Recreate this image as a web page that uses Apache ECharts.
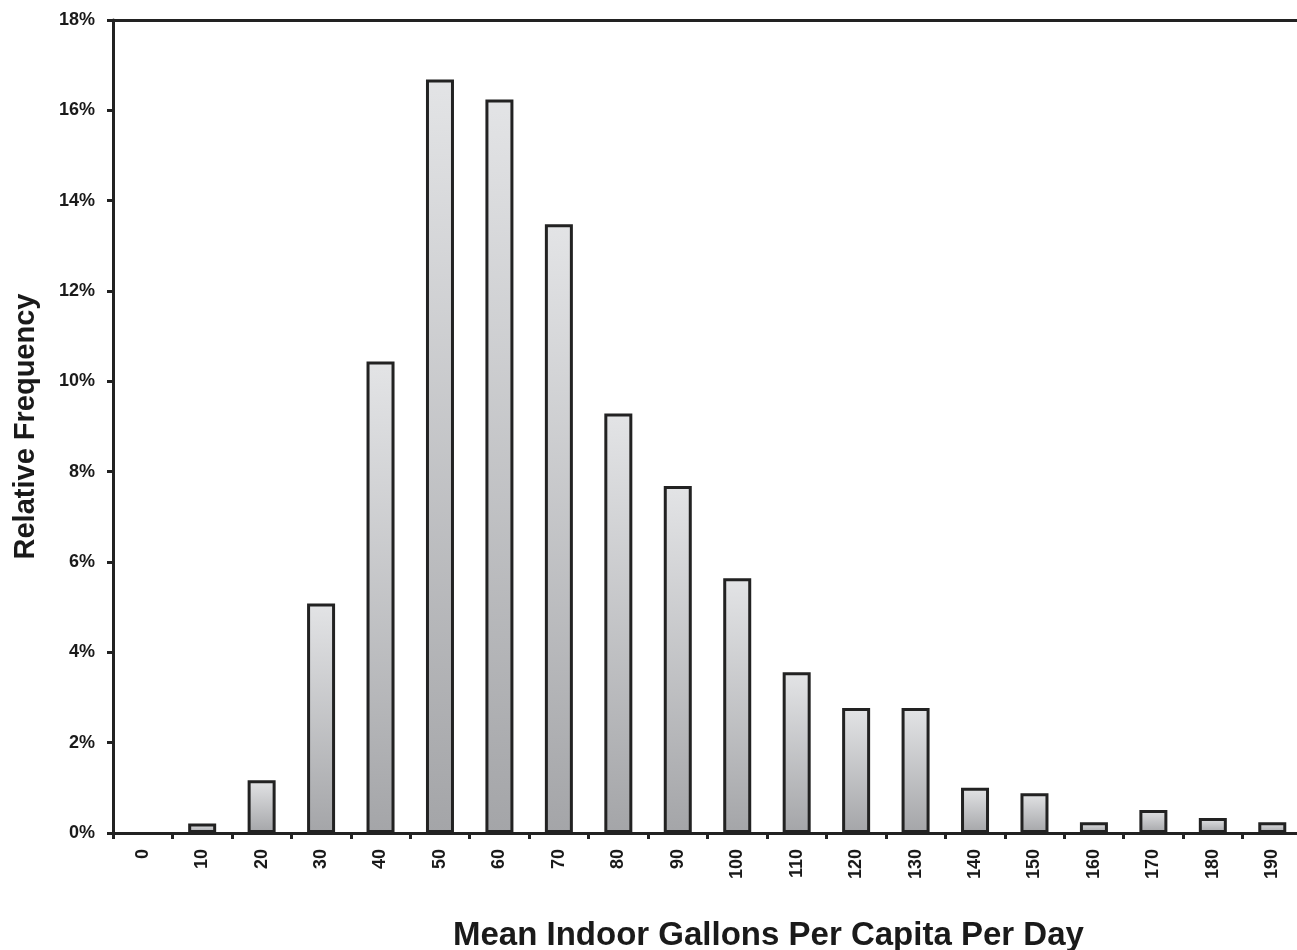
<!DOCTYPE html>
<html><head><meta charset="utf-8">
<script src="https://cdn.jsdelivr.net/npm/echarts@6/dist/echarts.min.js"></script>
<style>html,body{margin:0;padding:0;background:#fff}#c{width:1297px;height:950px}</style>
</head><body><div id="c"></div>
<script>
const categories = ['0','10','20','30','40','50','60','70','80','90','100','110','120','130','140','150','160','170','180','190'];
const frequency = [0, 0.21, 1.17, 5.08, 10.44, 16.68, 16.24, 13.48, 9.29, 7.68, 5.64, 3.56, 2.77, 2.77, 1.0, 0.88, 0.24, 0.51, 0.33, 0.24];
const yTicks = [0, 2, 4, 6, 8, 10, 12, 14, 16, 18];
const xTitle = 'Mean Indoor Gallons Per Capita Per Day';
const yTitle = 'Relative Frequency';

const chart = echarts.init(document.getElementById('c'));
const font = 'Liberation Sans, Arial, sans-serif';
chart.setOption({
  animation: false,
  backgroundColor: '#ffffff',
  title: {
    text: xTitle, left: 448, top: 914,
    textStyle: { fontFamily: font, fontWeight: 'bold', fontSize: 33, color: '#1a1a1a' }
  },
  grid: { left: 113, top: 20, bottom: 117, width: 1189, containLabel: false, outerBoundsMode: 'none' },
  xAxis: [{
    type: 'category', data: categories, position: 'bottom',
    axisLine: { lineStyle: { color: '#222', width: 3 } },
    axisTick: { show: true, length: 6, inside: false, alignWithLabel: false, lineStyle: { color: '#222', width: 3 } },
    axisLabel: { rotate: 90, margin: 16, fontFamily: font, fontWeight: 'bold', fontSize: 18, color: '#1a1a1a' },
    splitLine: { show: false }
  }, {
    type: 'category', data: categories, position: 'top',
    axisLine: { lineStyle: { color: '#222', width: 3 } },
    axisTick: { show: false }, axisLabel: { show: false }, splitLine: { show: false }
  }],
  yAxis: {
    type: 'value', min: yTicks[0], max: yTicks[yTicks.length - 1], interval: 2,
    name: yTitle, nameLocation: 'middle', nameGap: 73, nameMoveOverlap: false,
    nameTextStyle: { fontFamily: font, fontWeight: 'bold', fontSize: 29, color: '#1a1a1a' },
    axisLine: { show: true, lineStyle: { color: '#222', width: 3 } },
    axisTick: { show: true, length: 6, lineStyle: { color: '#222', width: 3 } },
    axisLabel: { margin: 18, fontFamily: font, fontWeight: 'bold', fontSize: 18, color: '#1a1a1a', formatter: v => v + '%' },
    splitLine: { show: false }
  },
  series: [{
    type: 'bar', data: frequency.map(v => v === 0 ? '-' : v), barWidth: 28, xAxisIndex: 0,
    itemStyle: {
      color: new echarts.graphic.LinearGradient(0, 0, 0, 1, [
        { offset: 0, color: '#e3e4e6' },
        { offset: 1, color: '#a4a5a8' }
      ]),
      borderColor: '#222', borderWidth: 3
    }
  }]
});
</script></body></html>
